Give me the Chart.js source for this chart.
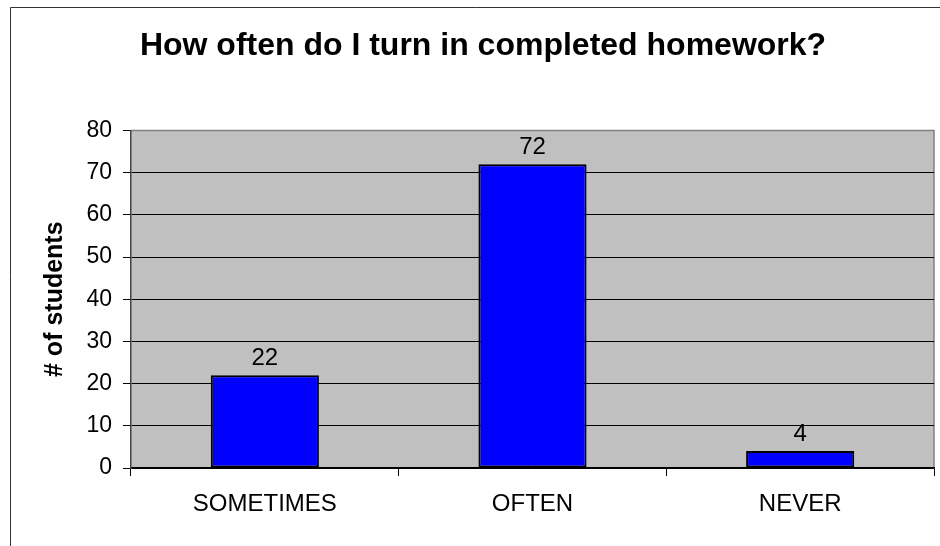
<!DOCTYPE html>
<html>
<head>
<meta charset="utf-8">
<script src="https://cdn.jsdelivr.net/npm/chart.js@4/dist/chart.umd.min.js"></script>
<style>
  html, body { margin: 0; padding: 0; background: #fff; }
  #wrap { width: 940px; height: 546px; position: relative; }
</style>
</head>
<body>
<div id="wrap"><canvas id="myChart"></canvas></div>
<script>
var categories = ["SOMETIMES", "OFTEN", "NEVER"];
var students = [22, 72, 4];
var yMin = 0;
var yMax = 80;
var yStep = 10;

var FONT = "'Liberation Sans', Arial, sans-serif";

// grey plot background + outer frame lines
var backdrop = {
  id: 'backdrop',
  beforeDraw: function(chart) {
    var c = chart.ctx, a = chart.chartArea;
    c.save();
    c.fillStyle = '#C0C0C0';
    c.fillRect(a.left, a.top, a.right - a.left, a.bottom - a.top);
    c.strokeStyle = '#808080';
    c.lineWidth = 1.5;
    c.beginPath();
    c.moveTo(a.left, a.top);
    c.lineTo(a.right, a.top);
    c.lineTo(a.right, a.bottom);
    c.stroke();
    c.strokeStyle = '#333';
    c.lineWidth = 1;
    c.beginPath();
    c.moveTo(10.5, chart.height);
    c.lineTo(10.5, 7.5);
    c.lineTo(chart.width, 7.5);
    c.stroke();
    c.restore();
  }
};

// value labels above the bars
var barLabels = {
  id: 'barLabels',
  afterDatasetsDraw: function(chart) {
    var c = chart.ctx;
    var meta = chart.getDatasetMeta(0);
    c.save();
    c.font = '24px ' + FONT;
    c.fillStyle = '#000';
    c.textAlign = 'center';
    c.textBaseline = 'alphabetic';
    meta.data.forEach(function(bar, i) {
      c.fillText(String(students[i]), bar.x, bar.y - 10);
    });
    c.restore();
  }
};

var ctx = document.getElementById('myChart');
var barChart = new Chart(ctx, {
  type: 'bar',
  data: {
    labels: categories,
    datasets: [{
      data: students,
      backgroundColor: '#0000FF',
      borderColor: '#000',
      borderWidth: 2,
      borderSkipped: false,
      barPercentage: 0.404,
      categoryPercentage: 1
    }]
  },
  options: {
    responsive: true,
    maintainAspectRatio: false,
    animation: false,
    layout: { padding: { left: 32, right: 6, top: 0, bottom: 0 } },
    plugins: {
      legend: { display: false },
      tooltip: { enabled: false },
      title: {
        display: true,
        text: 'How often do I turn in completed homework?',
        color: '#000',
        font: { family: FONT, size: 32, weight: 'bold' },
        padding: { top: 27, bottom: 65 }
      }
    },
    scales: {
      x: {
        afterFit: function(scale) { scale.height = 78; },
        grid: {
          offset: true,
          drawOnChartArea: false,
          drawTicks: true,
          tickLength: 8,
          color: '#000',
          lineWidth: 1
        },
        border: { color: '#000', width: 1.5 },
        ticks: {
          color: '#000',
          padding: 14,
          font: { family: FONT, size: 24 }
        }
      },
      y: {
        min: yMin,
        max: yMax,
        afterFit: function(scale) { scale.width = 99; },
        grid: {
          drawTicks: true,
          tickLength: 8,
          color: function(c) { return c.tick && c.tick.value === yMax ? '#808080' : '#000'; },
          tickColor: '#000',
          lineWidth: 1
        },
        border: { color: '#444', width: 1.5 },
        ticks: {
          stepSize: yStep,
          color: '#000',
          padding: 11,
          font: { family: FONT, size: 23 }
        },
        title: {
          display: true,
          text: '# of students',
          color: '#000',
          font: { family: FONT, size: 25, weight: 'bold' },
          padding: { top: 8, bottom: 0 }
        }
      }
    }
  },
  plugins: [backdrop, barLabels]
});
</script>
</body>
</html>
